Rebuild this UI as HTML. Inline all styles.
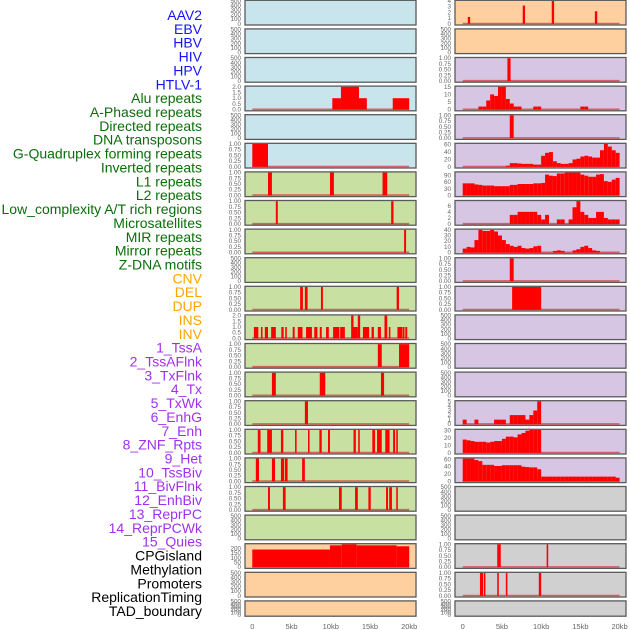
<!DOCTYPE html>
<html><head><meta charset="utf-8"><style>
html,body{margin:0;padding:0;background:#fff;}
svg{display:block;font-family:"Liberation Sans",sans-serif;}
</style></head><body>
<svg id="chart" width="630" height="630" viewBox="0 0 630 630" xmlns="http://www.w3.org/2000/svg"></svg>
<script>
// ---------- data (kb positions / values) ----------
const trackLabels = ["AAV2","EBV","HBV","HIV","HPV","HTLV-1","Alu repeats","A-Phased repeats","Directed repeats","DNA transposons","G-Quadruplex forming repeats","Inverted repeats","L1 repeats","L2 repeats","Low_complexity A/T rich regions","Microsatellites","MIR repeats","Mirror repeats","Z-DNA motifs","CNV","DEL","DUP","INS","INV","1_TssA","2_TssAFlnk","3_TxFlnk","4_Tx","5_TxWk","6_EnhG","7_Enh","8_ZNF_Rpts","9_Het","10_TssBiv","11_BivFlnk","12_EnhBiv","13_ReprPC","14_ReprPCWk","15_Quies","CPGisland","Methylation","Promoters","ReplicationTiming","TAD_boundary"];
const labelGroups = [6,13,5,15,5];
const xTickLabels = ["0","5kb","10kb","15kb","20kb"];
const xTickValues = [0,5,10,15,20];

const ticksEmpty = ["0","100","200","300","400","500"];
const ticksUnit = ["0.00","0.25","0.50","0.75","1.00"];
const ticksAlu = ["0.0","0.5","1.0","1.5","2.0"];
const ticksCpg = ["0","50","100","150","200"];

const leftAlu = [[10.2,11.3,1],[11.3,13.6,2],[13.6,14.6,1],[17.9,20,1]];
const leftGquad = [[0,2,1]];
const leftRow6 = [[2.0,2.5,1],[9.9,10.4,1],[16.6,17.2,1]];
const leftRow7 = [[3.0,3.25,1],[17.7,18.0,1]];
const leftRow8 = [[19.35,19.6,1]];
const leftRow10 = [[6.1,6.45,1],[6.7,7.05,1],[8.75,9.0,1],[18.4,18.7,1]];
const leftRow11 = [[0.2,0.77,1],[1.1,1.3,1],[1.6,2.0,1],[2.4,3.0,1],[3.7,4.0,1],[4.2,4.4,1],[5.15,5.4,1],[5.8,6.4,1],[6.85,7.6,1],[7.9,8.3,1],[8.6,8.85,1],[9.4,9.75,1],[10.3,11.1,1],[11.2,11.8,1],[12.6,12.9,2],[12.9,13.45,1],[13.45,13.75,2],[14.1,14.9,1],[15.2,15.5,1],[16.0,16.4,1],[16.85,17.2,2],[17.4,17.6,1],[18.5,19.1,1],[19.15,19.4,1],[19.5,19.75,1]];
const leftRow12 = [[16.0,16.5,1],[18.7,20.0,1]];
const leftRow13 = [[2.5,3.0,1],[8.6,9.3,1],[16.4,16.8,1]];
const leftRow14 = [[6.7,7.1,1]];
const leftRow15 = [[0.7,1.05,1],[1.9,2.5,1],[3.65,3.95,1],[5.45,5.65,1],[7.1,7.3,1],[8.55,8.85,1],[9.65,9.9,1],[12.9,13.2,1],[13.5,13.7,1],[15.3,15.65,1],[15.9,16.5,1],[16.95,17.5,1],[17.95,18.2,1],[18.35,18.55,1]];
const leftRow16 = [[0.45,0.85,1],[2.5,2.9,1],[3.65,4.05,1],[4.15,4.5,1],[6.35,6.7,1]];
const leftRow17 = [[2.0,2.25,1],[3.9,4.25,1],[11.05,11.4,1],[13.1,13.45,1],[14.8,15.1,1],[17.05,17.3,1],[17.45,17.8,1],[18.35,18.55,1]];
const leftCpg = [[0,9.9,190],[9.9,11.4,235],[11.4,13.3,245],[13.3,18.4,235],[18.4,20,225]];

const rightRow0 = [[0.65,0.95,1.2],[7.65,7.95,3.2],[11.35,11.65,4],[16.85,17.15,2.2]];
const rightRow2 = [[5.7,6.1,1]];
const rightAlu = [0,0,0,0,2,2,6,10,9,15,15,7,4,2,2,0,0,0,2,2,0,0,0,0,0,0,0,0,0,0,2,2,0,0,0,0,0,0,0,0];
const rightRow4 = [[6.0,6.5,1]];
const rightGquad = [0,0,0,0,0,0,0,0,0,0,0,3,10,10,9,8,8,8,6,6,30,38,40,15,10,8,8,10,20,22,28,30,28,25,25,45,62,55,45,38];
const rightL1 = [55,55,55,50,48,45,45,45,42,42,42,42,48,48,52,52,52,52,55,55,57,95,90,88,100,100,104,104,104,104,95,90,85,85,95,97,65,62,72,80];
const rightLowComplex = [0,0,0,0,0,0,0,0,0,0,0,0,3,3,4,4,4,4,4,3,1.5,3,0,0,1.5,1.5,0,1.5,5.5,7.5,4,3,2,2,4,4,2,1.5,1.5,1.5];
const rightMir = [7,10,9,22,40,38,38,40,37,30,22,15,12,10,12,8,7,8,11,12,0,0,0,3,4,3,0,0,4,6,10,12,8,4,3,0,0,0,0,0];
const rightRow9 = [[6.0,6.5,1]];
const rightRow10 = [[6.3,10.0,1]];
const rightRow14 = [1,0,0,1,0,0,0,0,1,1,1,0,2,2,2,2,1,2,3,5,0,0,0,0,0,0,0,0,0,0,0,0,0,0,0,0,0,0,0,0];
const rightRow15 = [18,17,16,15,15,15,14,15,16,16,19,22,22,21,25,27,30,31,31,31,0,0,0,0,0,0,0,0,0,0,0,0,0,0,0,0,0,0,0,0];
const rightRow16 = [62,62,62,58,55,45,45,45,42,42,44,44,44,44,44,40,39,38,38,33,13,13,13,13,13,13,13,13,13,13,13,13,13,13,13,13,13,13,13,10];
const rightRow19 = [[4.4,4.85,1],[10.7,10.9,1]];
const rightRow20 = [[2.2,2.6,1],[2.7,2.9,1],[4.4,4.6,1],[5.5,5.7,1],[9.7,10.0,1]];
const BIN = 0.5;

// ---------- layout ----------
const NS = "http://www.w3.org/2000/svg";
const svg = document.getElementById('chart');
const COLS = {L:{x0:245,x1:416,d0:252.3,d1:409.2,tx:241}, R:{x0:455,x1:626,d0:462.7,d1:619.6,tx:451}};
const BG = {blue:"#c8e4ec", green:"#c8e1a3", peach:"#ffd09f", purple:"#d6c6e3", gray:"#d0d0d0"};
function el(tag, attrs){const e=document.createElementNS(NS,tag);for(const k in attrs)e.setAttribute(k,attrs[k]);return e;}
function binsToSegs(b){const s=[];b.forEach((v,i)=>{if(v>0)s.push([i*BIN,(i+1)*BIN,v]);});return s;}
function xScale(col,kb){return col.d0+(col.d1-col.d0)*kb/20;}

const leftPanels = [
 ["blue",null,ticksEmpty],["blue",null,ticksEmpty],["blue",null,ticksEmpty],["blue",leftAlu,ticksAlu],["blue",null,ticksEmpty],["blue",leftGquad,ticksUnit],
 ["green",leftRow6,ticksUnit],["green",leftRow7,ticksUnit],["green",leftRow8,ticksUnit],["green",null,ticksEmpty],["green",leftRow10,ticksUnit],["green",leftRow11,ticksAlu],
 ["green",leftRow12,ticksUnit],["green",leftRow13,ticksUnit],["green",leftRow14,ticksUnit],["green",leftRow15,ticksUnit],["green",leftRow16,ticksUnit],["green",leftRow17,ticksUnit],
 ["green",null,ticksEmpty],["peach",leftCpg,ticksCpg],["peach",null,ticksEmpty],["peach",null,ticksEmpty]];
const rightPanels = [
 ["peach",rightRow0,["0","1","2","3","4"]],["peach",null,ticksEmpty],["purple",rightRow2,ticksUnit],["purple",binsToSegs(rightAlu),["0","5","10","15"]],
 ["purple",rightRow4,ticksUnit],["purple",binsToSegs(rightGquad),["0","20","40","60"]],["purple",binsToSegs(rightL1),["0","30","60","90"]],
 ["purple",binsToSegs(rightLowComplex),["0","2","4","6"]],["purple",binsToSegs(rightMir),["0","10","20","30","40"]],["purple",rightRow9,ticksUnit],
 ["purple",rightRow10,ticksUnit],["purple",null,ticksEmpty],["purple",null,ticksEmpty],["purple",null,ticksEmpty],
 ["purple",binsToSegs(rightRow14),["0","1","2","3","4","5"]],["purple",binsToSegs(rightRow15),["0","10","20","30"]],["purple",binsToSegs(rightRow16),["0","20","40","60"]],
 ["gray",null,ticksEmpty],["gray",null,ticksEmpty],["gray",rightRow19,ticksUnit],["gray",rightRow20,ticksUnit],["gray",null,ticksEmpty]];

function drawPanel(colKey, row, cfg){
  const col = COLS[colKey];
  const [bg, segs, ticks] = cfg;
  const top = 0.3 + 28.6*row;
  const h = row === 21 ? 15.3 : 24.7;
  const g = el('g',{});
  
  
  svg.appendChild(g);
  const frame = el('rect',{x:col.x0,y:top,width:col.x1-col.x0,height:h,fill:BG[bg],stroke:"#5a5a5a","stroke-width":1.3});
  
  
  g.appendChild(frame);
  const yTop = top+0.7, yBot = top+h-1.2;
  const ymax = segs ? Math.max(...segs.map(s=>s[2])) : 500;
  const yScale = v => yBot-(yBot-yTop)*v/ymax;
  const tmax = parseFloat(ticks[ticks.length-1]);
  ticks.forEach(t=>{
    const v = parseFloat(t);
    if (v > ymax*1.001) return;
    const tx = el('text',{x:col.tx,y:yScale(v)+2,"font-size":6.3,fill:"#666","text-anchor":"end"});
    tx.textContent = t;
    
    
    g.appendChild(tx);
  });
  if (segs){
    const base = el('line',{x1:xScale(col,0),x2:xScale(col,20),y1:yScale(0)-0.3,y2:yScale(0)-0.3,stroke:"rgba(205,60,60,0.75)","stroke-width":1.6});
    
    
    g.appendChild(base);
    segs.forEach(s=>{
      const x1 = xScale(col,s[0]), x2 = xScale(col,s[1]);
      const r = el('rect',{x:x1,y:yScale(s[2]),width:Math.max(1.2,x2-x1),height:yScale(0)-yScale(s[2]),fill:"#ff0000"});
      
      
      g.appendChild(r);
    });
  }
}
leftPanels.forEach((c,i)=>drawPanel('L',i,c));
rightPanels.forEach((c,i)=>drawPanel('R',i,c));

// labels
const groupColors = ["#1414ff","#0a6e0a","#ffa500","#a030f0","#000000"];
let gi=0, cnt=0;
trackLabels.forEach((name,i)=>{
  if (cnt >= labelGroups[gi]) {gi++; cnt=0;}
  cnt++;
  const t = el('text',{x:202,y:20+13.86*i,"font-size":14,fill:groupColors[gi],"text-anchor":"end"});
  t.textContent = name;
  
  
  svg.appendChild(t);
});

// x ticks
['L','R'].forEach(k=>{
  const col = COLS[k];
  xTickValues.forEach((v,i)=>{
    const t = el('text',{x:xScale(col,v),y:629,"font-size":7.5,fill:"#666","text-anchor":"middle"});
    t.textContent = xTickLabels[i];
    
    
    svg.appendChild(t);
  });
});
</script>
</body></html>
